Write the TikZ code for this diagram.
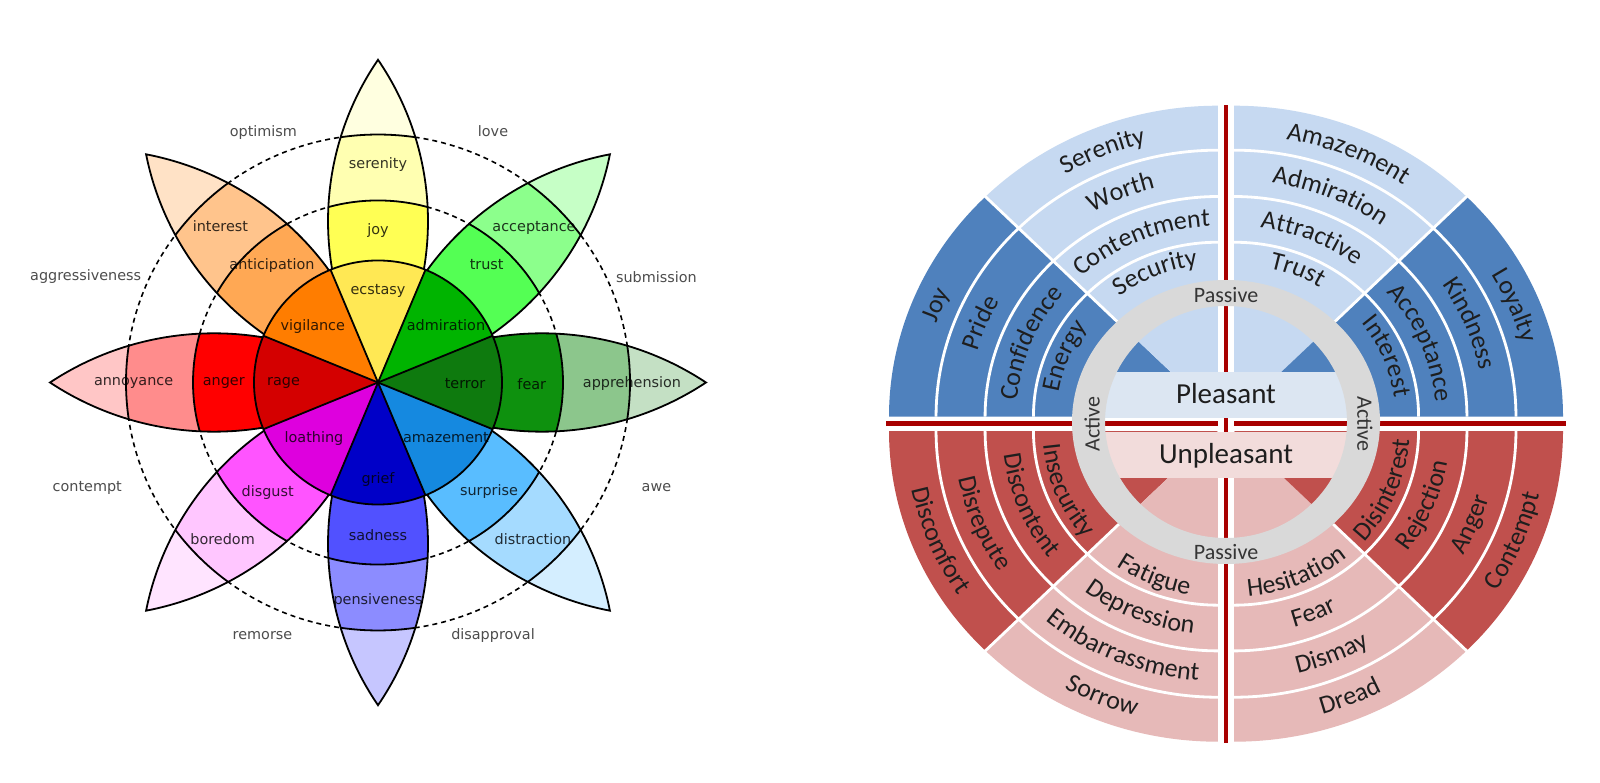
\documentclass[tikz,border=0pt]{standalone}
\usepackage{fontspec}
\usetikzlibrary{decorations.text}
\newfontfamily\dejavu{DejaVu Sans}
\newfontfamily\carl{Carlito}
% left wheel colours
\definecolor{ecst}{HTML}{FFE854}\definecolor{joyc}{HTML}{FFFF54}\definecolor{sere}{HTML}{FFFFB1}\definecolor{joyt}{HTML}{FFFFE0}
\definecolor{admi}{HTML}{00B400}\definecolor{trus}{HTML}{54FF54}\definecolor{acce}{HTML}{8CFF8C}\definecolor{trut}{HTML}{C6FFC6}
\definecolor{terr}{HTML}{0E7A0E}\definecolor{fearc}{HTML}{0E910E}\definecolor{appr}{HTML}{8CC68C}\definecolor{feat}{HTML}{C4E0C4}
\definecolor{amaz}{HTML}{1589E0}\definecolor{surp}{HTML}{59BDFF}\definecolor{dist}{HTML}{A5DBFF}\definecolor{surt}{HTML}{D4EEFF}
\definecolor{grie}{HTML}{0000C8}\definecolor{sadn}{HTML}{5151FF}\definecolor{pens}{HTML}{8C8CFF}\definecolor{sadt}{HTML}{C6C6FF}
\definecolor{loat}{HTML}{DE00DE}\definecolor{disg}{HTML}{FF54FF}\definecolor{bore}{HTML}{FFC6FF}\definecolor{disgt}{HTML}{FFE4FF}
\definecolor{ragec}{HTML}{D40000}\definecolor{ange}{HTML}{FF0000}\definecolor{anno}{HTML}{FF8C8C}\definecolor{angt}{HTML}{FFC6C6}
\definecolor{vigi}{HTML}{FF7D00}\definecolor{anti}{HTML}{FFA854}\definecolor{inte}{HTML}{FFC48C}\definecolor{antt}{HTML}{FFE2C6}
\definecolor{outtxt}{HTML}{4D4D4D}
% right wheel colours
\definecolor{dkblue}{HTML}{4F81BD}\definecolor{ltblue}{HTML}{C6D9F1}
\definecolor{dkred}{HTML}{C0504D}\definecolor{ltred}{HTML}{E6B9B8}
\definecolor{plband}{HTML}{DCE6F2}\definecolor{unband}{HTML}{F2DCDB}
\definecolor{ringgray}{HTML}{D9D9D9}\definecolor{axisred}{HTML}{A80000}
\definecolor{wtxt}{HTML}{1E1E1E}
\newcommand\ringfont{\carl\fontsize{26}{30}\selectfont\color{wtxt}}
\newcommand\sectorfill[4]{\fill[#4] (#1) -- ++(#2:329pt and 311pt) arc[start angle=#2,end angle=#3,x radius=329,y radius=311] -- cycle;}
\newcommand\arclabel[6]{%
  \pgfmathsetmacro\arx{#4*329+#5}\pgfmathsetmacro\ary{#4*311+#5}%
  \path (#1) ++(#2:\arx pt and \ary pt) coordinate (tpos);
  \path[decorate,decoration={text along path,text align=center,text={|\ringfont|#6}}]
    (tpos) arc[start angle=#2,end angle=#3,x radius=\arx,y radius=\ary];}
\newcommand\petalpath{(0,0) arc[start angle=123.91,end angle=56.09,radius=293.96] arc[start angle=-56.09,end angle=-123.91,radius=293.96] -- cycle}
\begin{document}
\begin{tikzpicture}[x=1pt,y=1pt,
  blk/.style={draw=black,line width=1.8pt},
  dashc/.style={draw=black,line width=1.6pt,dash pattern=on 5pt off 4pt},
  inlbl/.style={font=\dejavu\fontsize{14.4}{16}\selectfont,text=black,text opacity=0.8,anchor=base,inner sep=0pt},
  outlbl/.style={font=\dejavu\fontsize{14.4}{16}\selectfont,text=outtxt,anchor=base,inner sep=0pt},
  wline/.style={draw=white,line width=2.8pt},
  redl/.style={draw=axisred,line width=4.5pt},
  midlbl/.style={font=\carl\fontsize{22}{25}\selectfont,text=wtxt!90,inner sep=0pt},
  biglbl/.style={font=\carl\fontsize{29}{33}\selectfont,text=wtxt,anchor=base,inner sep=0pt}]
\useasboundingbox (0,0) rectangle (1600,782);
\fill[white] (0,0) rectangle (1600,782);
%================ LEFT WHEEL =================
\begin{scope}[shift={(378,399.5)},yscale=0.984]
  \draw[dashc] (0,0) circle[radius=185];
  \draw[dashc] (0,0) circle[radius=252];
  \foreach \pa/\colA/\colB/\colC in {90/joyc/sere/joyt,45/trus/acce/trut,0/fearc/appr/feat,-45/surp/dist/surt,-90/sadn/pens/sadt,-135/disg/bore/disgt,180/ange/anno/angt,135/anti/inte/antt}{
    \begin{scope}[rotate=\pa]
      \clip \petalpath;
      \fill[\colC] (0,0) circle[radius=340];
      \fill[\colB] (0,0) circle[radius=252];
      \fill[\colA] (0,0) circle[radius=185];
    \end{scope}
  }
\end{scope}
% labels in the petals
\node[inlbl] (serenity) at (378,613) {serenity};
\node[inlbl] (joy) at (378,547.6) {joy};
\node[inlbl] (acceptance) at (534,550.6) {acceptance};
\node[inlbl] (trust) at (486.7,512.4) {trust};
\node[inlbl] (interest) at (220.4,550.6) {interest};
\node[inlbl] (anticipation) at (272,512.4) {anticipation};
\node[inlbl] (annoyance) at (133.6,396) {annoyance};
\node[inlbl] (anger) at (223.8,396) {anger};
\node[inlbl] (fear) at (531.8,392) {fear};
\node[inlbl] (apprehension) at (632,394) {apprehension};
\node[inlbl] (disgust) at (267.7,285.6) {disgust};
\node[inlbl] (surprise) at (489,286.4) {surprise};
\node[inlbl] (boredom) at (222.6,237) {boredom};
\node[inlbl] (distraction) at (533,237) {distraction};
\node[inlbl] (sadness) at (378,241.3) {sadness};
\node[inlbl] (pensiveness) at (378,178) {pensiveness};
% petal outlines and band arcs
\begin{scope}[shift={(378,399.5)},yscale=0.984]
  \foreach \pa in {90,45,0,-45,-90,-135,180,135}{
    \begin{scope}[rotate=\pa]
      \begin{scope}
        \clip \petalpath;
        \draw[blk] (0,0) circle[radius=185] (0,0) circle[radius=252];
      \end{scope}
      \draw[blk,line join=miter] \petalpath;
    \end{scope}
  }
  \foreach \pa/\colW in {90/ecst,45/admi,0/terr,-45/amaz,-90/grie,-135/loat,180/ragec,135/vigi}{
    \begin{scope}[rotate=\pa]
      \fill[\colW] (0,0) -- (-22.5:124) arc[start angle=-22.5,end angle=22.5,radius=124] -- cycle;
    \end{scope}
  }
\end{scope}
% labels in the inner circle
\node[inlbl] (ecstasy) at (378,487.5) {ecstasy};
\node[inlbl] (admiration) at (446,451) {admiration};
\node[inlbl] (vigilance) at (312.8,451) {vigilance};
\node[inlbl] (rage) at (283.6,396) {rage};
\node[inlbl] (terror) at (465,393) {terror};
\node[inlbl] (loathing) at (314,339.3) {loathing};
\node[inlbl] (amazement) at (446,339.3) {amazement};
\node[inlbl] (grief) at (378,298.4) {grief};
\begin{scope}[shift={(378,399.5)},yscale=0.984]
  \foreach \pa in {22.5,67.5,112.5,157.5,202.5,247.5,292.5,337.5}{
    \draw[blk] (0,0) -- (\pa:124);
  }
  \draw[blk] (0,0) circle[radius=124];
\end{scope}
% outer labels
\node[outlbl] (optimism) at (263.4,645.5) {optimism};
\node[outlbl] (love) at (493,645.5) {love};
\node[outlbl] (aggressiveness) at (85.7,501.5) {aggressiveness};
\node[outlbl] (submission) at (656.4,499) {submission};
\node[outlbl] (contempt) at (87.3,290.7) {contempt};
\node[outlbl] (awe) at (656.4,290.7) {awe};
\node[outlbl] (remorse) at (262.5,143) {remorse};
\node[outlbl] (disapproval) at (493,143) {disapproval};
%================ RIGHT WHEEL =================
\coordinate (cUL) at (1218,365.3);
\coordinate (cUR) at (1234,365.3);
\coordinate (cLL) at (1218,351.3);
\coordinate (cLR) at (1234,351.3);
\sectorfill{cUL}{135}{180}{dkblue}
\sectorfill{cUL}{90}{135}{ltblue}
\sectorfill{cUR}{45}{90}{ltblue}
\sectorfill{cUR}{0}{45}{dkblue}
\sectorfill{cLL}{180}{225}{dkred}
\sectorfill{cLL}{225}{270}{ltred}
\sectorfill{cLR}{270}{315}{ltred}
\sectorfill{cLR}{315}{360}{dkred}
\foreach \qc/\qa in {cUL/90,cUR/0,cLL/180,cLR/270}{
  \foreach \ff in {0.857,0.708,0.561}{
    \pgfmathsetmacro\rrx{\ff*329}\pgfmathsetmacro\rry{\ff*311}\pgfmathsetmacro\qb{\qa+90}
    \path (\qc) ++(\qa:\rrx pt and \rry pt) coordinate (ringstart);
    \draw[wline] (ringstart) arc[start angle=\qa,end angle=\qb,x radius=\rrx,y radius=\rry];
  }
  \pgfmathsetmacro\qm{\qa+45}
  \path (\qc) ++(\qm:140pt and 132pt) coordinate (radin);
  \path (\qc) ++(\qm:334pt and 316pt) coordinate (radout);
  \draw[wline] (radin) -- (radout);
}
% axes
\coordinate (hl) at (886,358.3);
\coordinate (hr) at (1566,358.3);
\coordinate (vt) at (1226,676.5);
\coordinate (vb) at (1226,39.5);
\draw[white,line width=14pt] (hl) -- (hr);
\draw[redl] (hl) -- (hr);
\draw[white,line width=16pt] (vt) -- (vb);
\draw[redl] (vt) -- (vb);
% central bands
\fill[plband] (1096,363.7) rectangle (1356,410.3);
\fill[unband] (1096,303.7) rectangle (1356,350.3);
% grey ring
\fill[ringgray,even odd rule] (1226,360) ellipse[x radius=154,y radius=142] (1226,360) ellipse[x radius=121,y radius=116];
\node[biglbl] (pleasant) at (1226,378.2) {Pleasant};
\node[biglbl] (unpleasant) at (1226,318.2) {Unpleasant};
\node[midlbl] (passivetop) at (1226,487) {Passive};
\node[midlbl] (passivebot) at (1226,230.3) {Passive};
\node[midlbl,rotate=90] (activeleft) at (1092,358) {Active};
\node[midlbl,rotate=-90] (activeright) at (1365,358) {Active};
% ring labels
\arclabel{cUL}{180}{135}{0.9285}{-7}{Joy}
\arclabel{cUL}{180}{135}{0.7825}{-7}{Pride}
\arclabel{cUL}{180}{135}{0.6345}{-7}{Confidence}
\arclabel{cUL}{180}{135}{0.512}{-7}{Energy}
\arclabel{cUL}{135}{90}{0.9285}{-7}{Serenity}
\arclabel{cUL}{135}{90}{0.7825}{-7}{Worth}
\arclabel{cUL}{135}{90}{0.6345}{-7}{Contentment}
\arclabel{cUL}{135}{90}{0.512}{-7}{Security}
\arclabel{cUR}{90}{45}{0.9285}{-7}{Amazement}
\arclabel{cUR}{90}{45}{0.7825}{-7}{Admiration}
\arclabel{cUR}{90}{45}{0.6345}{-7}{Attractive}
\arclabel{cUR}{90}{45}{0.512}{-7}{Trust}
\arclabel{cUR}{45}{0}{0.9285}{-7}{Loyalty}
\arclabel{cUR}{45}{0}{0.7825}{-7}{Kindness}
\arclabel{cUR}{45}{0}{0.6345}{-7}{Acceptance}
\arclabel{cUR}{45}{0}{0.512}{-7}{Interest}
\arclabel{cLL}{180}{225}{0.9285}{7}{Discomfort}
\arclabel{cLL}{180}{225}{0.7825}{7}{Disrepute}
\arclabel{cLL}{180}{225}{0.6345}{7}{Discontent}
\arclabel{cLL}{180}{225}{0.512}{7}{Insecurity}
\arclabel{cLL}{225}{270}{0.9285}{7}{Sorrow}
\arclabel{cLL}{225}{270}{0.7825}{7}{Embarrassment}
\arclabel{cLL}{225}{270}{0.6345}{7}{Depression}
\arclabel{cLL}{225}{270}{0.512}{7}{Fatigue}
\arclabel{cLR}{270}{315}{0.9285}{7}{Dread}
\arclabel{cLR}{270}{315}{0.7825}{7}{Dismay}
\arclabel{cLR}{270}{315}{0.6345}{7}{Fear}
\arclabel{cLR}{270}{315}{0.512}{7}{Hesitation}
\arclabel{cLR}{315}{360}{0.9285}{7}{Contempt}
\arclabel{cLR}{315}{360}{0.7825}{7}{Anger}
\arclabel{cLR}{315}{360}{0.6345}{7}{Rejection}
\arclabel{cLR}{315}{360}{0.512}{7}{Disinterest}
\end{tikzpicture}
\end{document}
